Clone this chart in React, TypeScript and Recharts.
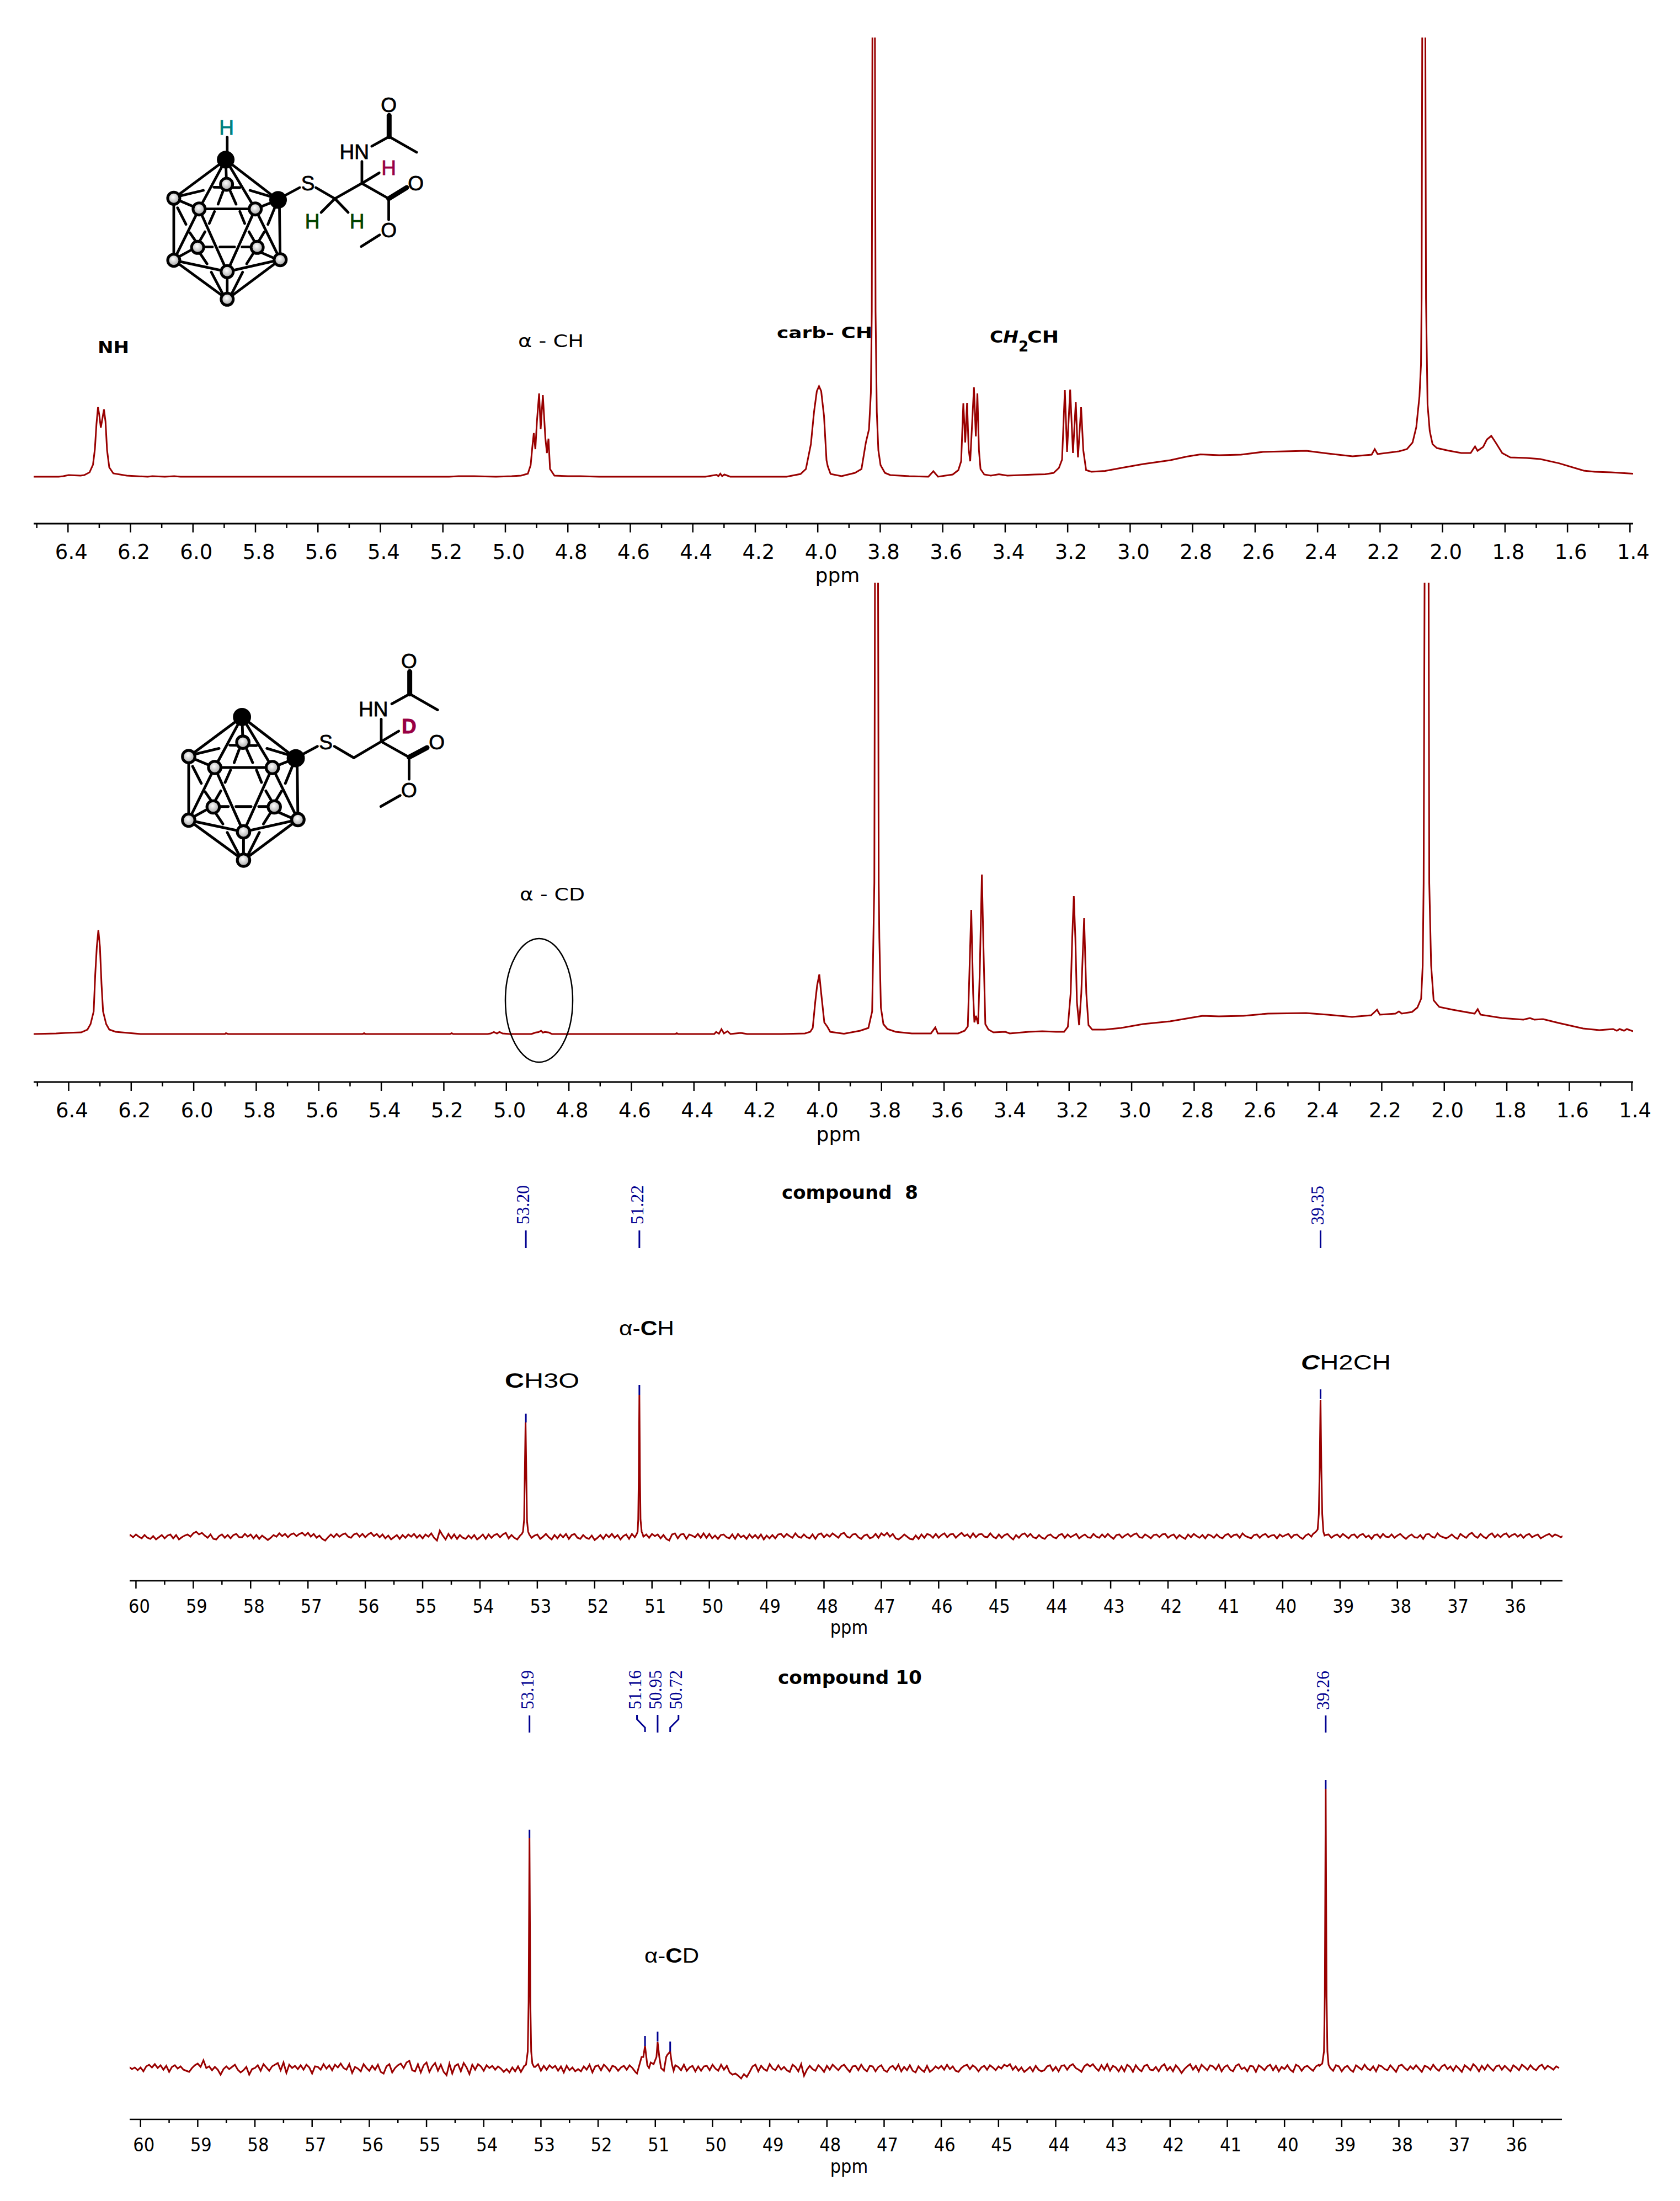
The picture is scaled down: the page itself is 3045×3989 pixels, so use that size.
import { LineChart, Line, XAxis, YAxis, ReferenceLine } from "recharts"

const RED = "#990000"
const BLUE = "#000090"
const SANS = "'DejaVu Sans', Verdana, sans-serif"
const ARIAL = "'Liberation Sans', Arial, sans-serif"
const SERIF = "'Liberation Serif', serif"
const NARROW = "'DejaVu Sans Condensed', 'Noto Sans', sans-serif"

// 1H spectrum of compound 8, [ppm, intensity]
const protonCH: number[][] = [
  [6.51, 0], [6.43, 0], [6.415, 1], [6.398, 3], [6.36, 2], [6.348, 3], [6.331, 8], [6.32, 22], [6.314, 50], [6.309, 95],
  [6.304, 126], [6.3, 112], [6.295, 89], [6.29, 105], [6.285, 122], [6.28, 100], [6.275, 48], [6.268, 17], [6.255, 6],
  [6.212, 2], [6.145, 0], [6.13, 1], [6.09, 0], [6.06, 1], [6.04, 0], [5.6, 0], [5.18, 0], [5.15, 1], [5.1, 1], [5.03, 0],
  [4.98, 1], [4.95, 2], [4.928, 5.5], [4.919, 21], [4.914, 52], [4.909, 79], [4.904, 50], [4.899, 100], [4.892, 151],
  [4.887, 86], [4.88, 148], [4.872, 70], [4.867, 43], [4.862, 69], [4.857, 14], [4.843, 2], [4.8, 1], [4.76, 1], [4.7, 0],
  [4.36, 0], [4.324, 3.5], [4.318, 1], [4.312, 5.5], [4.306, 1], [4.299, 4], [4.28, 0], [4.1, 0], [4.055, 5], [4.038, 14],
  [4.022, 59], [4.012, 117], [4.003, 155], [3.996, 164], [3.989, 155], [3.98, 110], [3.972, 30], [3.968, 19], [3.959, 5],
  [3.924, 1], [3.881, 7], [3.86, 14], [3.846, 62], [3.836, 86], [3.83, 152], [3.827, 300], [3.825, 796], [3.821, 1000],
  [3.817, 796], [3.815, 300], [3.811, 117], [3.806, 48], [3.799, 21], [3.785, 7], [3.768, 3], [3.707, 1], [3.646, 0],
  [3.63, 10], [3.615, 0], [3.568, 4], [3.55, 12], [3.541, 28], [3.534, 133], [3.528, 62], [3.522, 134], [3.517, 50],
  [3.512, 28], [3.5, 162], [3.494, 73], [3.489, 151], [3.484, 48], [3.479, 14], [3.467, 4], [3.446, 2], [3.42, 4.5],
  [3.393, 2], [3.306, 4], [3.272, 4.5], [3.245, 7], [3.228, 16], [3.218, 31], [3.209, 157], [3.202, 45], [3.192, 158],
  [3.183, 43], [3.174, 135], [3.167, 35], [3.157, 126], [3.15, 48], [3.141, 12], [3.124, 9], [3.08, 10.6], [3.028, 16],
  [2.958, 23], [2.871, 30], [2.819, 36.5], [2.775, 40.6], [2.715, 39], [2.645, 40], [2.575, 45], [2.436, 47], [2.366, 42],
  [2.288, 37], [2.227, 40], [2.217, 50], [2.208, 41], [2.14, 46], [2.114, 50], [2.096, 62], [2.084, 90], [2.074, 145],
  [2.069, 203], [2.067, 324], [2.065, 796], [2.06, 1000], [2.055, 796], [2.053, 324], [2.048, 131], [2.041, 83], [2.032, 59],
  [2.018, 52], [1.983, 47.5], [1.94, 43], [1.91, 43], [1.896, 55], [1.888, 47], [1.87, 54], [1.858, 67.5], [1.844, 74],
  [1.83, 62], [1.809, 43], [1.783, 35], [1.731, 34], [1.687, 32], [1.627, 24.4], [1.548, 11], [1.513, 9], [1.461, 8], [1.39, 5.5],
]

// 1H spectrum of compound 10, [ppm, intensity]
const protonCD: number[][] = [
  [6.512, 0], [6.44, 1], [6.41, 2], [6.36, 3], [6.34, 8], [6.33, 18], [6.32, 41], [6.315, 108], [6.31, 158], [6.305, 188],
  [6.3, 158], [6.295, 91], [6.29, 41], [6.28, 18], [6.27, 8], [6.25, 4], [6.21, 2], [6.17, 0], [5.9, 0], [5.897, 1.5],
  [5.89, 0], [5.46, 0], [5.455, 1.5], [5.45, 0], [5.18, 0], [5.175, 1.5], [5.17, 0], [5.06, 0], [5.05, 1], [5.04, 3.7],
  [5.03, 1], [5.022, 3.7], [5.012, 1], [4.99, 0], [4.92, 0], [4.906, 2.7], [4.897, 3.5], [4.889, 6], [4.883, 2.5],
  [4.877, 3.7], [4.864, 2.7], [4.854, 0], [4.46, 0], [4.455, 1.5], [4.45, 0], [4.335, 0], [4.329, 3.7], [4.32, 0.5],
  [4.312, 8.7], [4.304, 1], [4.293, 5], [4.283, 0], [4.25, 2], [4.23, 0], [4.12, 0], [4.045, 1], [4.028, 4], [4.02, 11],
  [4.012, 58], [4.006, 88], [3.999, 108], [3.993, 74], [3.983, 21], [3.973, 13], [3.964, 4], [3.92, 0.5], [3.868, 6],
  [3.842, 11], [3.83, 41], [3.827, 141], [3.823, 274], [3.821, 818], [3.816, 1000], [3.811, 818], [3.809, 274], [3.807, 174],
  [3.802, 48], [3.794, 18], [3.781, 9], [3.755, 4], [3.703, 1], [3.642, 1], [3.628, 12], [3.62, 1], [3.555, 1], [3.534, 6],
  [3.524, 14], [3.519, 108], [3.513, 225], [3.507, 74], [3.503, 21], [3.498, 33], [3.491, 18], [3.486, 108], [3.479, 289],
  [3.474, 158], [3.468, 18], [3.458, 8], [3.442, 3], [3.404, 4], [3.39, 1], [3.329, 4], [3.286, 5], [3.242, 4], [3.216, 4],
  [3.204, 13], [3.195, 74], [3.19, 174], [3.185, 250], [3.18, 174], [3.175, 58], [3.168, 16], [3.161, 74], [3.152, 210],
  [3.145, 74], [3.138, 16], [3.126, 8], [3.086, 8], [3.034, 11], [2.964, 18], [2.877, 23], [2.825, 28], [2.773, 33],
  [2.721, 32], [2.642, 33], [2.564, 37], [2.442, 38], [2.373, 35], [2.295, 31], [2.234, 34], [2.215, 44], [2.206, 35],
  [2.156, 37], [2.145, 41], [2.136, 37], [2.103, 40], [2.086, 48], [2.074, 64], [2.069, 124], [2.066, 274], [2.063, 818],
  [2.056, 1000], [2.05, 818], [2.048, 274], [2.042, 124], [2.034, 61], [2.016, 49], [1.973, 44], [1.903, 37], [1.893, 45],
  [1.884, 35], [1.816, 29], [1.747, 26], [1.726, 29], [1.712, 26], [1.684, 27], [1.634, 20], [1.556, 10], [1.504, 7],
  [1.46, 9], [1.448, 6], [1.439, 9], [1.425, 6], [1.416, 9], [1.396, 5],
]

const protonTicks = [
  6.5, 6.4, 6.3, 6.2, 6.1, 6.0, 5.9, 5.8, 5.7, 5.6, 5.5, 5.4, 5.3, 5.2, 5.1, 5.0, 4.9, 4.8, 4.7, 4.6, 4.5, 4.4, 4.3, 4.2, 4.1,
  4.0, 3.9, 3.8, 3.7, 3.6, 3.5, 3.4, 3.3, 3.2, 3.1, 3.0, 2.9, 2.8, 2.7, 2.6, 2.5, 2.4, 2.3, 2.2, 2.1, 2.0, 1.9, 1.8, 1.7, 1.6,
  1.5, 1.4,
]
const carbonTicks = [
  60, 59.5, 59, 58.5, 58, 57.5, 57, 56.5, 56, 55.5, 55, 54.5, 54, 53.5, 53, 52.5, 52, 51.5, 51, 50.5, 50, 49.5, 49, 48.5, 48,
  47.5, 47, 46.5, 46, 45.5, 45, 44.5, 44, 43.5, 43, 42.5, 42, 41.5, 41, 40.5, 40, 39.5, 39, 38.5, 38, 37.5, 37, 36.5, 36, 35.5,
]

// 13C baseline of compound 8, one row per ppm, 0.05 ppm apart, from 60.15 down
const noise8: number[][] = [
  [-3, 2, -2, 3, -1, -4, 2, -3, -5, 0, -6, -2, 2, -4, 1, 3, -4, 2, -6, -2],
  [1, 3, -1, 5, 8, 3, 6, 1, -3, 3, -5, -6, 0, 3, -3, 2, -4, 2, 4, -2],
  [-2, 4, -1, 3, -4, 2, -5, 1, -3, -7, -3, 2, -1, 5, 0, 4, -2, 3, 5, 0],
  [4, 6, 1, 6, -1, 4, -3, 1, -5, -8, -2, 3, -2, 4, -1, 3, 5, -1, -3, 3],
  [5, -1, 4, -2, 3, 6, 0, 4, -2, 3, -4, 1, -6, -2, 2, -5, 2, -3, 3, -1],
  [4, -3, 2, -4, 3, -1, 5, -3, -8, 10, 1, -6, 4, -4, 3, -5, 2, -3, -5, 1],
  [-4, 2, -6, -2, 3, -5, 3, -3, 2, 4, -2, 3, 6, -4, 2, -3, -6, 1, 3, -5],
  [3, -3, 1, 3, -5, -1, 4, -2, -6, 2, -4, 3, -2, 4, -5, 2, 4, -3, -5, 2],
  [-3, -5, 1, -7, -3, 2, -5, 3, -2, 4, -3, 2, -6, 0, 3, -5, 4, -2, 4, 1],
  [-1, 3, -3, 4, 0, 3, -4, 2, -5, -8, 3, 5, -4, 3, 4, -5, 3, 1, -2, 4],
  [-3, 5, -3, 4, -4, 1, -5, 2, 3, -2, -4, 3, -5, 4, -2, 1, -5, 3, -3, 2],
  [-4, 3, -6, 1, -4, 2, -4, 3, 4, -2, 4, 0, -3, 5, -1, -3, 3, -2, -4, 3],
  [-5, 3, 5, -2, 3, -1, 5, 1, -3, 4, 6, -1, -3, 3, 4, -2, -5, 1, 3, -4],
  [-2, 4, -3, 5, 1, 6, -1, 4, -4, -6, -2, 3, -1, -5, -6, 1, -5, 3, -3, 4],
  [2, -3, 4, -3, 2, 5, -2, 3, 4, -3, 2, 6, 0, 3, -3, 5, -2, 3, 4, -1],
  [-2, 5, -1, -4, 3, -3, 2, 4, -2, -6, 2, -3, 3, 5, -1, 4, -2, -4, 2, -3],
  [-5, 1, 3, -2, -4, 2, 4, -3, 3, -2, 1, 4, -4, 0, 3, -2, -3, 4, -1, -3],
  [3, -2, 4, -1, -5, 2, 3, -3, 1, 4, -1, 3, 5, -2, -3, 3, 0, -4, 2, 3],
  [-2, 3, 4, -3, 1, 3, -4, 2, -2, -5, 3, -2, 4, 0, -3, 2, -4, 3, 1, -3],
  [3, -2, -4, 2, 4, -2, 2, 3, -3, 5, 0, -2, -4, 2, 3, -3, 2, 4, -2, 1],
  [2, -4, 3, -1, 2, 4, -3, 2, 3, -2, -5, 1, 4, -1, -3, 3, -2, -4, 2, 3],
  [-3, 1, 3, -2, 4, 0, -4, 2, 3, -3, 2, 4, -2, 1, -5, 2, 3, -3, 4, -1],
  [-2, 3, -3, 1, 4, -1, -5, 0, 3, -2, -3, 2, -5, 3, 4, -1, -3, 5, 0, -2],
  [-4, -1, 3, -2, -5, 4, 0, -3, 3, 6, 0, -3, 4, -1, -4, 2, 5, -2, 3, -2],
  [3, 5, -2, 2, 4, -1, 3, -3, 2, 4, -2, 1, 3, -4, -1, 2, 4, -1, 3, 1],
  [-2, 1],
]

// 13C baseline of compound 10, one row per ppm, 0.05 ppm apart, from 60.20 down
const noise10: number[][] = [
  [2, -2, 1, -4, 1, -6, 3, 6, 1, 7, 0, 5, -3, 4, -7, 2, 5, -1, 3, -3],
  [-5, -7, 0, 5, 8, 2, 14, 0, 3, -4, 2, -3, -12, -2, 3, -2, 2, 6, -3, -8],
  [-4, 2, -12, -2, 0, 5, -5, 7, 1, -5, 3, 6, 9, -4, 10, -9, 6, 0, 4, -2],
  [5, -3, 6, 1, -10, 3, 2, -3, 7, -1, 5, -4, 6, 1, 8, 0, -3, 7, -9, 2],
  [-1, -6, 7, 0, -5, 4, -3, 6, -7, -10, 3, 7, -8, 0, 5, 8, 0, 10, 13, -4],
  [-6, 7, -8, 5, 10, -7, 3, 9, -5, 6, -7, -13, 8, -10, 4, 7, -6, 9, 1, -11],
  [6, -3, 7, 3, -5, 5, 0, 4, -3, 3, -1, -7, -2, -8, 1, -6, 3, -7, 2, -4],
  [6, -7, 2, 7, -5, 4, -3, 5, 0, 4, -5, 3, -8, 4, -4, 1, -6, -2, -6, 3],
  [-3, 6, -8, 3, 5, -4, 6, 1, -6, 4, 2, -5, 1, 4, -3, 5, 0, -7, 3, 5],
  [-1, -5, 4, 6, -3, 2, 5, -6, 1, 3, -6, 5, 2, -4, 6, -5, 1, 4, -6, 3],
  [-5, 3, 4, -4, 6, -1, -5, 6, -3, 4, -8, -12, -10, -14, -19, -11, -16, -7, 3, 6],
  [-6, 4, -2, -5, 7, -1, -4, 5, -3, 2, -4, -7, 6, 2, -6, 7, -14, -3, 4, -2],
  [-5, 5, 0, -7, 4, -3, 6, 1, -4, 3, 6, -1, -7, 3, 4, -4, 6, -2, -6, 4],
  [3, -6, 2, 5, -4, -7, 1, 4, -3, 6, -6, 2, -4, 5, -5, -8, 3, -3, -7, 4],
  [-7, -3, 3, -1, 4, -3, 6, -2, 3, -5, -7, 0, 4, 6, -2, 5, 1, -6, 1, 4],
  [-3, 5, 1, -4, 3, -1, 6, 3, 7, -3, 3, -5, 1, -7, -3, 2, -6, 4, -3, -6],
  [-4, 3, 5, -5, 2, -6, 4, 5, -3, 4, 7, 0, -3, -7, 3, 7, 3, 7, 0, -5],
  [5, -3, 7, -5, 4, 1, -6, 3, -6, 6, 2, -7, 5, -2, -6, 4, 6, -3, -4, 2],
  [-6, 3, 7, -4, 2, -6, 5, -1, -9, -2, 3, 7, -3, 4, -6, 6, 1, -4, 5, 3],
  [-3, 6, -6, 2, 5, -3, -6, 4, 7, -2, 1, -6, 4, 3, -7, 5, 1, -4, 3, 6],
  [-4, 4, -6, 2, -2, 5, -3, -7, 6, 3, -5, 2, 4, -1, -5, 3, 6, -2, -6, 4],
  [2, -5, 5, 3, -6, 1, 4, -3, -7, 5, 1, -3, 6, -1, -4, 3, -6, 5, 3, -2],
  [-4, 5, -1, -7, 4, 6, 0, -4, 3, -2, 5, -1, -7, 4, 2, -3, 6, -1, -5, 3],
  [6, -2, 3, -5, 4, -1, -7, 5, 1, -4, 7, 2, -6, 4, -3, 6, 0, -5, 3, 5],
  [-3, 4, -1, -6, 5, 1, -4, 6, 2, -3, 5, -1, -4, 3, 6, -2, 4, 1, -3, 3],
  [0],
]

// 13C peaks
const peak8Ome = [[53.27, 4], [53.25, 8], [53.23, 30], [53.22, 100], [53.205, 206], [53.19, 100], [53.18, 28], [53.16, 8], [53.14, 3]]
const peak8Alpha = [[51.27, 3], [51.25, 8], [51.24, 30], [51.23, 110], [51.22, 256], [51.21, 110], [51.2, 30], [51.18, 8], [51.16, 3]]
const peak8Ch2 = [[39.47, 4], [39.42, 8], [39.39, 12], [39.37, 40], [39.355, 120], [39.34, 247], [39.325, 120], [39.31, 40], [39.29, 8], [39.27, 1]]
const peak10Ome = [[53.3, 3], [53.26, 6], [53.23, 30], [53.215, 120], [53.2, 417], [53.185, 120], [53.17, 30], [53.15, 8], [53.12, 2]]
const peak10Alpha = [
  [51.32, -10], [51.24, 20], [51.21, 20], [51.18, 40], [51.14, 5], [51.11, 0], [51.08, 10], [51.03, 7], [50.98, 20], [50.96, 47],
  [50.93, 20], [50.9, 0], [50.85, -5], [50.81, 20], [50.79, 24], [50.74, 30], [50.71, 7], [50.68, -5],
]
const peak10Ch2 = [[39.39, 4], [39.34, 8], [39.31, 30], [39.295, 130], [39.28, 506], [39.265, 130], [39.25, 30], [39.23, 6], [39.2, 0]]

// peak pickings, [ppm, marker low, marker high, stem low, stem high]
const picks8 = [[53.2, 206, 222, 522, 554], [51.22, 256, 274, 522, 554], [39.34, 249, 266, 522, 554]]
const picks10 = [[53.2, 417, 432, 608, 639], [51.18, 40, 58, 0, 0], [50.96, 48, 66, 608, 640], [50.74, 30, 48, 0, 0], [39.28, 506, 522, 608, 639]]
const connectorLeft = [[51.18, 609], [51.18, 617], [51.32, 632], [51.32, 640]]
const connectorRight = [[50.74, 609], [50.74, 617], [50.595, 632], [50.595, 640]]

const toPoints = (rows: number[][]) => rows.map(([x, y]) => ({ x, y }))

const carbonSeries = (rows: number[][], start: number, peaks: number[][][]) => {
  const base = rows.flat().map((y, i) => ({ x: start - i * 0.05, y }))
  const kept = base.filter((p) => !peaks.some((pk) => p.x <= pk[0][0] && p.x >= pk[pk.length - 1][0]))
  return [...kept, ...peaks.flat().map(([x, y]) => ({ x, y }))].sort((a, b) => b.x - a.x)
}

const spectrum8 = carbonSeries(noise8, 60.15, [peak8Ome, peak8Alpha, peak8Ch2])
const spectrum10 = carbonSeries(noise10, 60.2, [peak10Ome, peak10Alpha, peak10Ch2])

const PAD_L = 40
const PAD_R = 70

const renderTick = (props: any, o: { major: (v: number) => boolean; text: (v: number) => string; font: string; size: number; drop: number; dx: number; long: number; short: number }) => {
  const v = props.payload.value
  const isMajor = o.major(v)
  return (
    <g>
      <line x1={props.x} x2={props.x} y1={props.y} y2={props.y + (isMajor ? o.long : o.short)} stroke="#000" strokeWidth={2.5} />
      {isMajor && (
        <text x={props.x + o.dx} y={props.y + o.drop} textAnchor="middle" fontFamily={o.font} fontSize={o.size} fill="#000">
          {o.text(v)}
        </text>
      )}
    </g>
  )
}

function ProtonPanel({ rows, top, bottom, baseline, domain }: { rows: number[][]; top: number; bottom: number; baseline: number; domain: number[] }) {
  const h = bottom - top
  return (
    <div style={{ position: "absolute", left: 61 - PAD_L, top }}>
      <LineChart width={2899 + PAD_L + PAD_R} height={h + 100} margin={{ top: 0, right: PAD_R, bottom: 0, left: PAD_L }}>
        <XAxis
          type="number"
          dataKey="x"
          reversed
          domain={domain}
          allowDataOverflow
          ticks={protonTicks}
          interval={0}
          height={100}
          tickSize={0}
          tickMargin={0}
          tickLine={false}
          axisLine={{ stroke: "#000", strokeWidth: 3 }}
          tick={(p: any) =>
            renderTick(p, {
              major: (v) => Math.round(v * 10) % 2 === 0,
              text: (v) => v.toFixed(1),
              font: SANS,
              size: 37,
              drop: 64,
              dx: 6,
              long: 16,
              short: 8,
            })
          }
        />
        <YAxis hide type="number" domain={[baseline - bottom, baseline - top]} allowDataOverflow />
        <Line data={toPoints(rows)} dataKey="y" type="linear" stroke={RED} strokeWidth={3} dot={false} isAnimationActive={false} />
      </LineChart>
    </div>
  )
}

function CarbonPanel({ series, left, width, top, bottom, baseline, domain, picks, connectors }: { series: any[]; left: number; width: number; top: number; bottom: number; baseline: number; domain: number[]; picks: number[][]; connectors?: number[][][] }) {
  const h = bottom - top
  return (
    <div style={{ position: "absolute", left: left - PAD_L, top }}>
      <LineChart width={width + PAD_L + PAD_R} height={h + 90} margin={{ top: 0, right: PAD_R, bottom: 0, left: PAD_L }}>
        <XAxis
          type="number"
          dataKey="x"
          reversed
          domain={domain}
          allowDataOverflow
          ticks={carbonTicks}
          interval={0}
          height={90}
          tickSize={0}
          tickMargin={0}
          tickLine={false}
          axisLine={{ stroke: "#000", strokeWidth: 2.6 }}
          tick={(p: any) =>
            renderTick(p, {
              major: (v) => Number.isInteger(v),
              text: (v) => String(v),
              font: NARROW,
              size: 34,
              drop: 58,
              dx: 6,
              long: 14,
              short: 7,
            })
          }
        />
        <YAxis hide type="number" domain={[baseline - bottom, baseline - top]} allowDataOverflow />
        <Line data={series} dataKey="y" type="linear" stroke={RED} strokeWidth={3} dot={false} isAnimationActive={false} />
        {picks.map(([ppm, a, b]) => (
          <ReferenceLine key={"m" + ppm} segment={[{ x: ppm, y: a }, { x: ppm, y: b }]} stroke={BLUE} strokeWidth={3} />
        ))}
        {picks
          .filter((p) => p[4] > 0)
          .map(([ppm, , , c, d]) => (
            <ReferenceLine key={"s" + ppm} segment={[{ x: ppm, y: c }, { x: ppm, y: d }]} stroke={BLUE} strokeWidth={3} />
          ))}
        {(connectors || []).map((c, i) => (
          <Line key={i} data={toPoints(c)} dataKey="y" type="linear" stroke={BLUE} strokeWidth={3} dot={false} isAnimationActive={false} />
        ))}
      </LineChart>
    </div>
  )
}

// carborane cage, traced in crop coordinates of the first structure
const mx = (v: number) => 230 + v * 0.3827
const my = (v: number) => 150 + v / 3

const cageBonds = [
  [468, 418, 222, 628], [468, 418, 716, 637], [468, 418, 342, 686], [468, 418, 608, 686], [468, 418, 472, 552],
  [222, 628, 342, 686], [342, 686, 608, 686], [608, 686, 716, 637], [222, 628, 222, 965], [722, 637, 726, 962],
  [342, 686, 222, 965], [342, 686, 475, 1027], [608, 686, 475, 1027], [608, 686, 726, 962], [222, 965, 475, 1027],
  [726, 962, 475, 1027], [222, 965, 475, 1177], [726, 962, 475, 1177], [475, 1027, 475, 1177],
  [235, 620, 362, 585], [700, 625, 583, 585], [412, 568, 535, 570], [455, 590, 432, 660], [490, 590, 517, 660],
  [415, 700, 390, 765], [535, 700, 558, 765], [240, 680, 280, 770], [700, 680, 668, 770], [298, 815, 325, 860],
  [370, 810, 345, 860], [345, 925, 380, 985], [300, 912, 240, 950], [345, 893, 405, 893], [440, 893, 510, 893],
  [545, 893, 610, 893], [578, 810, 603, 860], [650, 812, 625, 860], [600, 925, 567, 985], [640, 925, 700, 955],
  [400, 1030, 455, 1150], [548, 1030, 495, 1150],
]
const cageBalls = [[222, 628], [472, 552], [342, 686], [608, 686], [335, 895], [617, 895], [222, 965], [726, 962], [475, 1027], [475, 1177]]
const cageSolid = [[468, 418, 16], [716, 637, 16]]

function Cage({ transform }: { transform?: string }) {
  return (
    <g transform={transform}>
      {cageBonds.map((b, i) => (
        <line key={i} x1={mx(b[0])} y1={my(b[1])} x2={mx(b[2])} y2={my(b[3])} stroke="#000" strokeWidth={4.8} strokeLinecap="round" />
      ))}
      {cageBalls.map((b, i) => (
        <circle key={i} cx={mx(b[0])} cy={my(b[1])} r={11} fill="url(#ball)" stroke="#000" strokeWidth={5} />
      ))}
      {cageSolid.map((b, i) => (
        <circle key={i} cx={mx(b[0])} cy={my(b[1])} r={b[2]} fill="#000" />
      ))}
    </g>
  )
}

function Chain({ x, y, bonds, thick, labels }: { x: (v: number) => number; y: (v: number) => number; bonds: number[][]; thick: number[][]; labels: any[][] }) {
  return (
    <g>
      {bonds.map((b, i) => (
        <line key={i} x1={x(b[0])} y1={y(b[1])} x2={x(b[2])} y2={y(b[3])} stroke="#000" strokeWidth={4.8} strokeLinecap="round" />
      ))}
      {thick.map((b, i) => (
        <line key={i} x1={x(b[0])} y1={y(b[1])} x2={x(b[2])} y2={y(b[3])} stroke="#000" strokeWidth={9} strokeLinecap="round" />
      ))}
      {labels.map(([t, lx, ly, fill, weight], i) => (
        <text key={i} x={x(lx)} y={y(ly) + 13} textAnchor="middle" fontFamily={ARIAL} fontSize={37} fill={fill} stroke={fill} strokeWidth={0.8} fontWeight={weight || "normal"}>
          {t}
        </text>
      ))}
    </g>
  )
}

const chainBonds = [
  [475, 295, 475, 375], [750, 612, 818, 570], [895, 570, 985, 630], [985, 630, 1112, 547], [1113, 547, 1113, 428],
  [1113, 547, 1195, 490], [985, 630, 920, 705], [985, 630, 1048, 705], [1113, 547, 1240, 630], [1240, 630, 1240, 745],
  [1197, 827, 1110, 890], [1160, 345, 1242, 293], [1242, 293, 1372, 378],
]
const chainThick = [[1240, 630, 1325, 570], [1242, 293, 1242, 178]]
const chainLabels = [
  ["H", 472, 243, "#008080"], ["S", 857, 547, "#000"], ["HN", 1077, 375, "#000"], ["H", 1240, 462, "#990044"],
  ["H", 878, 753, "#004400"], ["H", 1090, 753, "#004400"], ["O", 1368, 547, "#000"], ["O", 1240, 800, "#000"], ["O", 1240, 120, "#000"],
]
const chainBondsD = [
  [730, 620, 798, 578], [878, 578, 970, 640], [970, 640, 1100, 552], [1100, 552, 1100, 430], [1100, 552, 1183, 495],
  [1100, 552, 1232, 637], [1232, 637, 1232, 757], [1190, 845, 1098, 905], [1150, 347, 1235, 293], [1235, 293, 1367, 380],
]
const chainThickD = [[1232, 637, 1317, 585], [1235, 293, 1235, 172]]
const chainLabelsD = [
  ["S", 838, 555, "#000"], ["HN", 1063, 375, "#000"], ["D", 1232, 467, "#990044", "bold"], ["O", 1363, 555, "#000"],
  ["O", 1232, 815, "#000"], ["O", 1232, 115, "#000"],
]

// rotated shift labels, [text, baseline x, bottom y]
const shifts = [
  ["53.20", 959, 2219], ["51.22", 1166, 2219], ["39.35", 2399, 2220],
  ["53.19", 967, 3098], ["51.16", 1162, 3098], ["50.95", 1199, 3098], ["50.72", 1236, 3098], ["39.26", 2409, 3099],
]

export default function App() {
  return (
    <div style={{ position: "absolute", left: 0, top: 0, width: 3045, height: 3989, background: "#fff", overflow: "hidden" }}>
      <ProtonPanel rows={protonCH} top={68} bottom={949} baseline={864} domain={[1.39, 6.51]} />
      <ProtonPanel rows={protonCD} top={1056} bottom={1961} baseline={1874} domain={[1.396, 6.512]} />
      <CarbonPanel series={spectrum8} left={235} width={2597} top={2130} bottom={2865} baseline={2784} domain={[35.12, 60.11]} picks={picks8} />
      <CarbonPanel
        series={spectrum10}
        left={235}
        width={2596}
        top={3060}
        bottom={3841}
        baseline={3748}
        domain={[35.15, 60.19]}
        picks={picks10}
        connectors={[connectorLeft, connectorRight]}
      />
      <svg width={3045} height={3989} style={{ position: "absolute", left: 0, top: 0, pointerEvents: "none" }}>
        <defs>
          <radialGradient id="ball" cx="45%" cy="40%" r="65%">
            <stop offset="0%" stopColor="#ffffff" />
            <stop offset="100%" stopColor="#9a9a9a" />
          </radialGradient>
        </defs>
        <Cage />
        <Chain x={mx} y={my} bonds={chainBonds} thick={chainThick} labels={chainLabels} />
        <Cage transform="translate(18.7 1002.3) scale(1.0265)" />
        <Chain x={(v) => 270 + v * 0.3827} y={(v) => 1160 + v / 3} bonds={chainBondsD} thick={chainThickD} labels={chainLabelsD} />

        <text x={177} y={640} fontFamily={SANS} fontWeight="bold" fontSize={31} textLength={57} lengthAdjust="spacingAndGlyphs">NH</text>
        <text x={939} y={629} fontFamily={SANS} fontSize={32} textLength={119} lengthAdjust="spacingAndGlyphs">α - CH</text>
        <text x={1408} y={613} fontFamily={SANS} fontWeight="bold" fontSize={29} textLength={173} lengthAdjust="spacingAndGlyphs">carb- CH</text>
        <text x={1794} y={621} fontFamily={SANS} fontWeight="bold" fontSize={30} textLength={52} lengthAdjust="spacingAndGlyphs">
          C<tspan fontStyle="italic">H</tspan>
        </text>
        <text x={1846} y={637} fontFamily={SANS} fontWeight="bold" fontSize={26}>2</text>
        <text x={1862} y={621} fontFamily={SANS} fontWeight="bold" fontSize={30} textLength={57} lengthAdjust="spacingAndGlyphs">CH</text>
        <text x={942} y={1632} fontFamily={SANS} fontSize={32} textLength={118} lengthAdjust="spacingAndGlyphs">α - CD</text>
        <ellipse cx={977} cy={1813} rx={61} ry={112} fill="none" stroke="#000" strokeWidth={2.5} />

        <text x={1518} y={1055} textAnchor="middle" fontFamily={SANS} fontSize={36}>ppm</text>
        <text x={1520} y={2068} textAnchor="middle" fontFamily={SANS} fontSize={36}>ppm</text>
        <text x={1539} y={2961} textAnchor="middle" fontFamily={NARROW} fontSize={34}>ppm</text>
        <text x={1539} y={3938} textAnchor="middle" fontFamily={NARROW} fontSize={34}>ppm</text>

        <text x={1417} y={2173} fontFamily={SANS} fontWeight="bold" fontSize={33} textLength={247} lengthAdjust="spacingAndGlyphs" xmlSpace="preserve">compound  8</text>
        <text x={1410} y={3052} fontFamily={SANS} fontWeight="bold" fontSize={33} textLength={261} lengthAdjust="spacingAndGlyphs" xmlSpace="preserve">compound 10</text>

        {shifts.map(([t, x, y]) => (
          <text key={t as string} transform={`translate(${x} ${y}) rotate(-90)`} fontFamily={SERIF} fontSize={33} fill={BLUE} textLength={71} lengthAdjust="spacingAndGlyphs">
            {t}
          </text>
        ))}

        <text x={915} y={2515} fontFamily={ARIAL} fontSize={37} textLength={135} lengthAdjust="spacingAndGlyphs">
          <tspan fontWeight="bold">C</tspan>H3O
        </text>
        <text x={1122} y={2420} fontFamily={ARIAL} fontSize={37} textLength={100} lengthAdjust="spacingAndGlyphs">
          α-<tspan fontWeight="bold">C</tspan>H
        </text>
        <text x={2358} y={2482} fontFamily={ARIAL} fontSize={37} textLength={163} lengthAdjust="spacingAndGlyphs">
          <tspan fontWeight="bold" fontStyle="italic">C</tspan>H2CH
        </text>
        <text x={1168} y={3557} fontFamily={ARIAL} fontSize={37} textLength={99} lengthAdjust="spacingAndGlyphs">
          α-<tspan fontWeight="bold">C</tspan>D
        </text>
      </svg>
    </div>
  )
}
